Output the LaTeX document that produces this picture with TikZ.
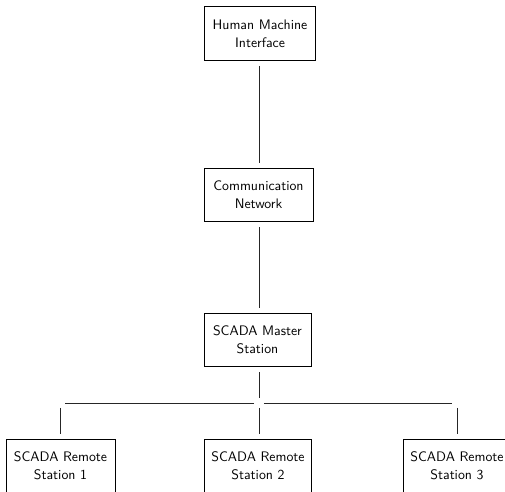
\documentclass[tikz,border=0pt]{standalone}
\usetikzlibrary{calc}
\begin{document}
\begin{tikzpicture}[x=0.725pt,y=-0.725pt,
  unit/.style={draw=black, line width=0.6pt, rectangle, align=center,
    font=\sffamily\fontsize{10pt}{13pt}\selectfont, inner sep=0pt, minimum height=39pt},
  link/.style={draw=black!85, line width=0.7pt, shorten <=3.6pt, shorten >=3.6pt}]
  \useasboundingbox (0,0) rectangle (505,492);
  \clip (0,0) rectangle (505,492);
  % control chain
  \node[unit, minimum width=81pt] (hmi) at (260,33.5) {Human Machine\\Interface};
  \node[unit, minimum width=79pt] (net) at (258.5,195) {Communication\\Network};
  \node[unit, minimum width=77.5pt] (master) at (257.5,340) {SCADA Master\\Station};
  % remote stations
  \node[unit, minimum width=79pt] (rs1) at (60.5,466) {SCADA Remote\\Station 1};
  \node[unit, minimum width=77pt] (rs2) at (258,466) {SCADA Remote\\Station 2};
  \node[unit, minimum width=78pt] (rs3) at (457,466) {SCADA Remote\\Station 3};
  % bus junction
  \coordinate (fork) at (259,403);
  \coordinate (forkL) at (rs1.north |- fork);
  \coordinate (forkR) at (rs3.north |- fork);
  \coordinate (forkM) at (rs2.north -| fork);
  \draw[link] (hmi.south -| fork) -- (net.north -| fork);
  \draw[link] (net.south -| fork) -- (master.north -| fork);
  \draw[link] (master.south -| fork) -- (fork);
  \draw[link] (fork) -- (forkL);
  \draw[link] (fork) -- (forkR);
  \draw[link] (fork) -- (forkM);
  \draw[link] (forkL) -- (rs1.north);
  \draw[link] (forkR) -- (rs3.north);
\end{tikzpicture}
\end{document}
